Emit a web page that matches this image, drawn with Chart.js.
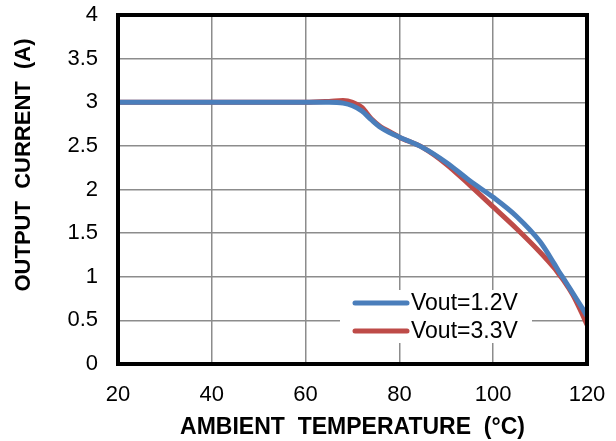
<!DOCTYPE html>
<html><head><meta charset="utf-8">
<script src="https://cdn.jsdelivr.net/npm/chart.js@4"></script>
<style>html,body{margin:0;padding:0;background:#fff;}#wrap{width:616px;height:441px;}</style>
</head><body><div id="wrap"><canvas id="c" width="616" height="441"></canvas></div>
<script>
const temps = [20,30,40,50,60,65,68,70,72,74,76,78,80,85,90,95,100,105,110,113,114,115,117,119,120];
const vout12 = [3,3,3,3,3,3,2.99,2.96,2.9,2.8,2.71,2.65,2.6,2.48,2.31,2.1,1.91,1.69,1.40,1.15,1.06,0.98,0.81,0.64,0.55];
const vout33 = [3,3,3,3,3,3.01,3.02,3.0,2.94,2.81,2.72,2.66,2.6,2.48,2.29,2.05,1.8,1.55,1.28,1.1,1.03,0.96,0.79,0.57,0.45];
const seriesNames = ["Vout=1.2V","Vout=3.3V"];
const seriesColors = ["#4A7EBB","#BE4B48"];
const xTicks = [20,40,60,80,100,120];
const yTicks = [0,0.5,1,1.5,2,2.5,3,3.5,4];
const xTitle = "AMBIENT  TEMPERATURE  (°C)";
const yTitle = "OUTPUT  CURRENT  (A)";

const FONT = "'Liberation Sans', Arial, sans-serif";
const series = [vout12, vout33];

const extras = {
  id:'extras',
  afterDraw(chart){
    const ctx = chart.ctx, a = chart.chartArea;
    ctx.save();
    ctx.strokeStyle = '#000'; ctx.lineWidth = 4;
    ctx.strokeRect(a.left, a.top, a.right - a.left, a.bottom - a.top);
    ctx.fillStyle = '#fff';
    ctx.fillRect(340, 290, 192, 53);
    series.forEach((s, i) => {
      const y = 303 + i * 28;
      ctx.strokeStyle = seriesColors[i]; ctx.lineWidth = 5; ctx.lineCap = 'round';
      ctx.beginPath(); ctx.moveTo(355, y); ctx.lineTo(407, y); ctx.stroke();
      ctx.fillStyle = '#000'; ctx.font = "23px " + FONT;
      ctx.textAlign = 'left'; ctx.textBaseline = 'middle';
      ctx.fillText(seriesNames[i], 411, y + 1);
    });
    ctx.fillStyle = '#000'; ctx.font = "bold 23px " + FONT;
    ctx.textAlign = 'center'; ctx.textBaseline = 'middle';
    ctx.fillText(xTitle, (a.left + a.right) / 2, 428);
    ctx.font = "bold 22px " + FONT;
    ctx.translate(24, 165); ctx.rotate(-Math.PI / 2);
    ctx.fillText(yTitle, 0, 0);
    ctx.restore();
  }
};

new Chart(document.getElementById('c'), {
  type: 'line',
  data: {
    datasets: series.map((s, i) => ({
      label: seriesNames[i],
      data: temps.map((t, j) => ({x: t, y: s[j]})),
      borderColor: seriesColors[i],
      borderWidth: 5,
      pointRadius: 0,
      cubicInterpolationMode: 'monotone',
      fill: false
    }))
  },
  options: {
    responsive: false, animation: false,
    layout: {padding: {left: 0, right: 29, top: 15, bottom: 0}},
    plugins: {legend: {display: false}, tooltip: {enabled: false}},
    scales: {
      x: {
        type: 'linear', min: 20, max: 120,
        afterBuildTicks(s){ s.ticks = xTicks.map(v => ({value: v})); },
        afterFit(s){ s.height = 441 - 364; s.paddingLeft = 0; s.paddingRight = 0; },
        grid: {color: '#8c8c8c', lineWidth: 1.5, drawTicks: false},
        border: {display: false},
        ticks: {color: '#000', font: {family: FONT, size: 22}, padding: 18, maxRotation: 0}
      },
      y: {
        min: 0, max: 4,
        afterBuildTicks(s){ s.ticks = yTicks.map(v => ({value: v})); },
        afterFit(s){ s.width = 118; s.paddingTop = 0; s.paddingBottom = 0; },
        grid: {color: '#8c8c8c', lineWidth: 1.5, drawTicks: false},
        border: {display: false},
        ticks: {color: '#000', font: {family: FONT, size: 22}, padding: 20, callback: v => String(v)}
      }
    }
  },
  plugins: [extras]
});
</script>
</body></html>
